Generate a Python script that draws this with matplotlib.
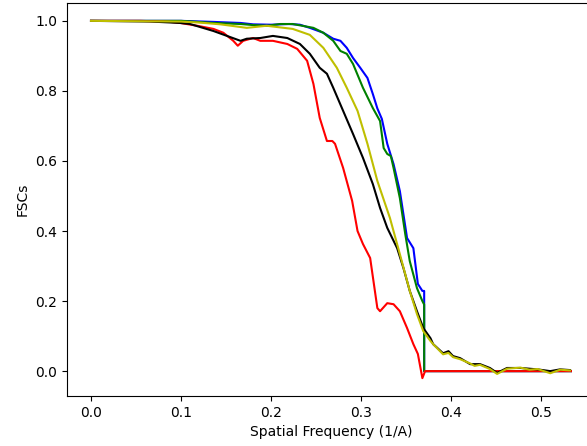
import matplotlib
matplotlib.use("Agg")
import matplotlib.pyplot as plt

# FSC curves (x in 1/A)
blue_x = [0.0, 0.1, 0.136, 0.166, 0.18, 0.2, 0.22, 0.232, 0.243, 0.258, 0.269, 0.277,
          0.284, 0.291, 0.299, 0.307, 0.313, 0.318, 0.323, 0.329, 0.336, 0.343, 0.351,
          0.358, 0.363, 0.368, 0.37, 0.37, 0.533]
blue_y = [1.0, 1.0, 0.997, 0.994, 0.99, 0.989, 0.991, 0.989, 0.98, 0.966, 0.949, 0.943,
          0.923, 0.894, 0.866, 0.837, 0.791, 0.75, 0.72, 0.649, 0.591, 0.514, 0.38,
          0.351, 0.249, 0.229, 0.229, 0.0, 0.0]

green_x = [0.0, 0.1, 0.136, 0.166, 0.18, 0.196, 0.21, 0.224, 0.247, 0.258, 0.269, 0.277,
           0.284, 0.291, 0.302, 0.313, 0.321, 0.325, 0.329, 0.333, 0.336, 0.343, 0.349,
           0.354, 0.362, 0.368, 0.37, 0.37, 0.533]
green_y = [1.0, 1.0, 0.994, 0.991, 0.988, 0.986, 0.991, 0.991, 0.98, 0.966, 0.943, 0.914,
           0.906, 0.877, 0.809, 0.751, 0.714, 0.637, 0.62, 0.614, 0.58, 0.494, 0.391,
           0.314, 0.237, 0.2, 0.19, 0.0, 0.0]

red_x = [0.0, 0.055, 0.088, 0.099, 0.118, 0.136, 0.147, 0.158, 0.163, 0.169, 0.18, 0.188,
         0.202, 0.218, 0.229, 0.24, 0.247, 0.254, 0.262, 0.268, 0.271, 0.28, 0.29, 0.296,
         0.302, 0.31, 0.318, 0.321, 0.329, 0.336, 0.343, 0.351, 0.358, 0.363, 0.368,
         0.371, 0.533]
red_y = [1.0, 1.0, 0.997, 0.994, 0.986, 0.977, 0.966, 0.943, 0.929, 0.943, 0.951, 0.943,
         0.943, 0.934, 0.92, 0.886, 0.82, 0.723, 0.657, 0.657, 0.649, 0.58, 0.486, 0.4,
         0.363, 0.323, 0.18, 0.171, 0.194, 0.191, 0.171, 0.123, 0.077, 0.049, -0.02,
         0.0, 0.0]

black_x = [0.0, 0.066, 0.099, 0.11, 0.136, 0.151, 0.166, 0.173, 0.188, 0.202, 0.218,
           0.232, 0.243, 0.254, 0.262, 0.269, 0.28, 0.291, 0.302, 0.313, 0.321, 0.329,
           0.34, 0.347, 0.354, 0.362, 0.369, 0.377, 0.38, 0.391, 0.397, 0.402, 0.41,
           0.421, 0.432, 0.443, 0.451, 0.462, 0.477, 0.496, 0.51, 0.521, 0.532]
black_y = [1.0, 0.998, 0.994, 0.991, 0.971, 0.957, 0.943, 0.949, 0.951, 0.957, 0.951,
           0.934, 0.906, 0.866, 0.849, 0.809, 0.743, 0.677, 0.609, 0.534, 0.466, 0.409,
           0.351, 0.294, 0.229, 0.171, 0.123, 0.094, 0.077, 0.051, 0.057, 0.043, 0.037,
           0.02, 0.02, 0.009, -0.005, 0.009, 0.009, 0.005, 0.0, 0.005, 0.003]

yellow_x = [0.0, 0.1, 0.121, 0.144, 0.173, 0.195, 0.224, 0.243, 0.258, 0.273, 0.284,
            0.296, 0.307, 0.318, 0.332, 0.343, 0.354, 0.362, 0.369, 0.377, 0.38, 0.391,
            0.397, 0.402, 0.41, 0.421, 0.426, 0.432, 0.443, 0.451, 0.462, 0.477, 0.487,
            0.496, 0.51, 0.521, 0.532]
yellow_y = [1.0, 0.998, 0.995, 0.99, 0.98, 0.986, 0.977, 0.96, 0.923, 0.866, 0.809,
            0.743, 0.649, 0.543, 0.437, 0.334, 0.229, 0.163, 0.114, 0.086, 0.077, 0.048,
            0.052, 0.04, 0.034, 0.022, 0.015, 0.018, 0.006, -0.008, 0.007, 0.01, 0.004,
            0.006, -0.006, 0.004, 0.002]

fig = plt.figure(figsize=(5.87, 4.46), dpi=100)
ax = fig.add_axes([0.1141, 0.1121, 0.8995, 0.8812])

ax.plot(blue_x, blue_y, color='b')
ax.plot(green_x, green_y, color='g')
ax.plot(red_x, red_y, color='r')
ax.plot(black_x, black_y, color='k')
ax.plot(yellow_x, yellow_y, color='y')

ax.set_xlim(-0.0267, 0.5597)
ax.set_ylim(-0.071, 1.051)
ax.set_xlabel('Spatial Frequency (1/A)')
ax.set_ylabel('FSCs')

fig.savefig('out.png', dpi=100)
